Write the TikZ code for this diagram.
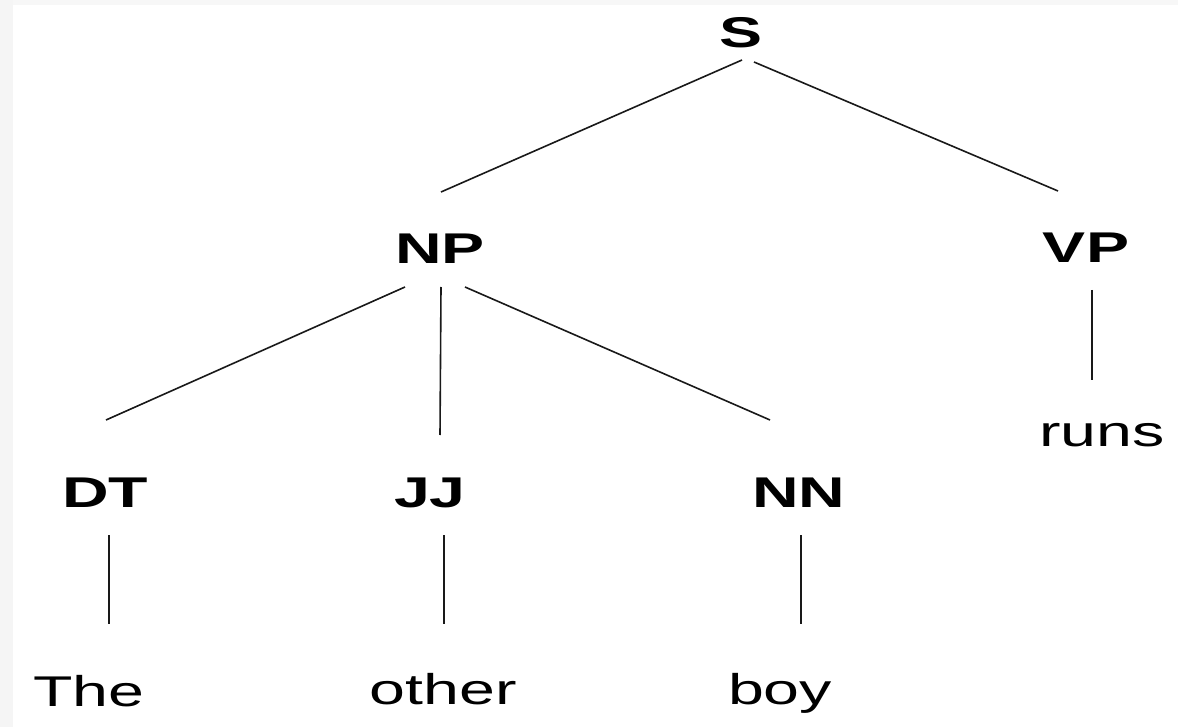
\documentclass[tikz,border=0pt]{standalone}
\usepackage{fontspec}
\setmainfont{Liberation Sans}
\usetikzlibrary{calc}
\tikzset{
  tag/.style={font=\fontsize{43}{48}\selectfont\bfseries, inner sep=0pt, anchor=base, xscale=1.5},
  word/.style={font=\fontsize{43}{48}\selectfont, inner sep=0pt, anchor=base, xscale=1.5},
  edge/.style={line width=1.6pt, black!90}
}
\begin{document}
\begin{tikzpicture}[x=1pt,y=-1pt]
\useasboundingbox (0,0) rectangle (1178,727);
\fill[white] (0,0) rectangle (1178,727);
\fill[black!4] (0,0) rectangle (13,727);
\fill[black!3] (13,0) rectangle (1178,5);

\node[tag] (S) at (741,48) {S};
\node[tag] (NP) at (440,264) {NP};
\node[tag] (VP) at (1086,263) {VP};
\node[tag] (DT) at (105,507) {DT};
\node[tag] (JJ) at (430,507) {JJ};
\node[tag] (NN) at (799,507) {NN};
\node[word] (runs) at (1102,446) {runs};
\node[word] (The) at (89,706) {The};
\node[word] (other) at (443,704) {other};
\node[word] (boy) at (780,704) {boy};

\draw[edge] ($(S.base)+(1,12)$) -- ($(NP.base)+(1,-72)$);
\draw[edge] ($(S.base)+(13,14)$) -- ($(VP.base)+(-28,-72)$);
\draw[edge] ($(NP.base)+(-35,23)$) -- ($(DT.base)+(1,-87)$);
\draw[edge] ($(NP.base)+(1,23)$) -- ($(JJ.base)+(10,-72)$);
\draw[edge] ($(NP.base)+(25,23)$) -- ($(NN.base)+(-29,-87)$);
\draw[edge] ($(VP.base)+(6,27)$) -- ($(runs.base)+(-10,-66)$);
\draw[edge] ($(DT.base)+(4,28)$) -- ($(The.base)+(20,-82)$);
\draw[edge] ($(JJ.base)+(14,28)$) -- ($(other.base)+(1,-80)$);
\draw[edge] ($(NN.base)+(2,28)$) -- ($(boy.base)+(21,-80)$);
\end{tikzpicture}
\end{document}
